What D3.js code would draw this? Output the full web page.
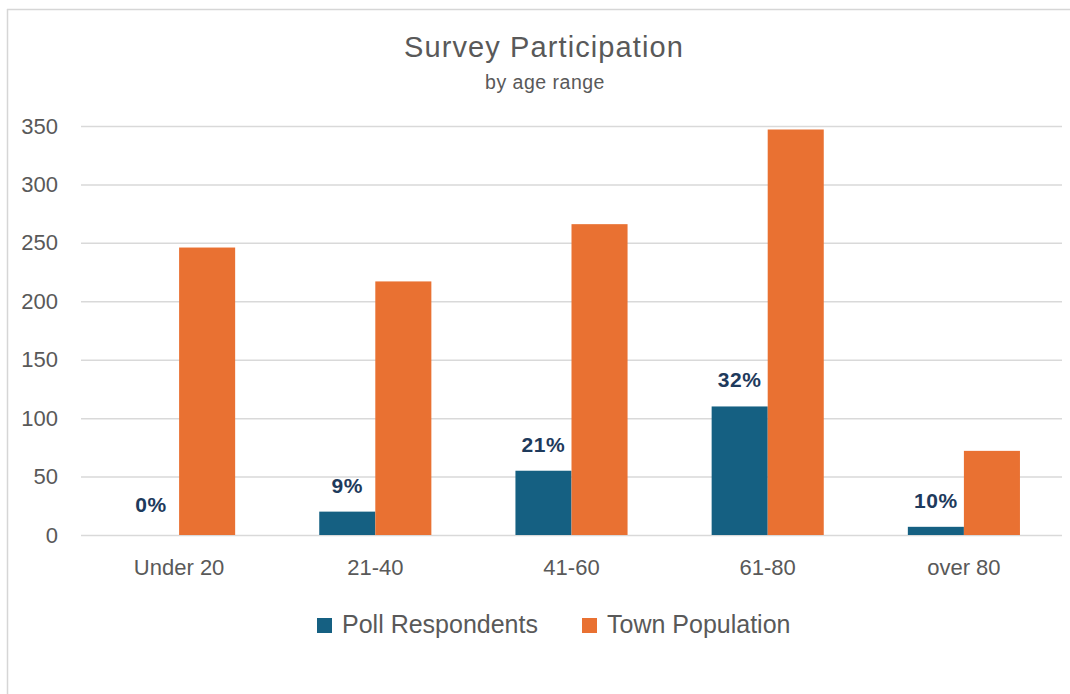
<!DOCTYPE html>
<html>
<head>
<meta charset="utf-8">
<script src="https://cdn.jsdelivr.net/npm/d3@7"></script>
<style>
  html, body { margin: 0; padding: 0; background: #ffffff; }
  svg { display: block; }
  text { font-family: "Liberation Sans", Arial, sans-serif; }
</style>
</head>
<body>
<svg id="chart" width="1070" height="694"></svg>
<script>
const categories = ["Under 20", "21-40", "41-60", "61-80", "over 80"];
const seriesNames = ["Poll Respondents", "Town Population"];
const pollRespondents = [0, 20, 55, 110, 7];
const townPopulation = [246, 217, 266, 347, 72];
const pctLabels = ["0%", "9%", "21%", "32%", "10%"];
const yTicks = [0, 50, 100, 150, 200, 250, 300, 350];
const colors = ["#156082", "#E97132"];

const W = 1070, H = 694;
const plot = { left: 81, right: 1062, top: 126, bottom: 535 };

const svg = d3.select("#chart");

// frame (top & left edges visible)
svg.append("line").attr("x1", 7).attr("x2", W).attr("y1", 9.5).attr("y2", 9.5)
  .attr("stroke", "#d6d6d6").attr("stroke-width", 1.5);
svg.append("line").attr("x1", 7.5).attr("x2", 7.5).attr("y1", 9).attr("y2", H)
  .attr("stroke", "#d6d6d6").attr("stroke-width", 1.5);

// title
svg.append("text").attr("x", 544).attr("y", 57).attr("text-anchor", "middle")
  .attr("font-size", 29).attr("letter-spacing", 1.1).attr("fill", "#595959")
  .text("Survey Participation");
svg.append("text").attr("x", 545).attr("y", 89).attr("text-anchor", "middle")
  .attr("font-size", 19.5).attr("letter-spacing", 0.5).attr("fill", "#595959")
  .text("by age range");

const y = d3.scaleLinear().domain([0, 350]).range([plot.bottom, plot.top]);
const x0 = d3.scaleBand().domain(categories).range([plot.left, plot.right]).paddingInner(0).paddingOuter(0);
const x1 = d3.scaleBand().domain(seriesNames).range([0, x0.bandwidth()]).paddingInner(0).paddingOuter(0.75);

// y axis with gridlines
const yAxis = svg.append("g").attr("transform", `translate(${plot.left},0)`)
  .call(d3.axisLeft(y).tickValues(yTicks).tickSize(-(plot.right - plot.left)).tickPadding(23));
yAxis.select(".domain").remove();
yAxis.selectAll(".tick line").attr("stroke", "#d9d9d9").attr("stroke-width", 1.5);
yAxis.selectAll(".tick text").attr("font-size", 22).attr("fill", "#595959")
  .attr("font-family", "Liberation Sans, Arial, sans-serif");

// x axis labels
const xAxis = svg.append("g").attr("transform", `translate(0,${plot.bottom})`)
  .call(d3.axisBottom(x0).tickSize(0).tickPadding(24));
xAxis.select(".domain").remove();
xAxis.selectAll(".tick text").attr("font-size", 22).attr("fill", "#595959")
  .attr("font-family", "Liberation Sans, Arial, sans-serif");

// bars
const rows = categories.map((c, i) => ({
  cat: c,
  values: [
    { series: seriesNames[0], v: pollRespondents[i] },
    { series: seriesNames[1], v: townPopulation[i] }
  ],
  label: pctLabels[i],
  poll: pollRespondents[i]
}));

const groups = svg.append("g").selectAll("g").data(rows).join("g")
  .attr("transform", d => `translate(${x0(d.cat)},0)`);

groups.selectAll("rect").data(d => d.values).join("rect")
  .attr("x", d => x1(d.series))
  .attr("width", x1.bandwidth())
  .attr("y", d => y(d.v))
  .attr("height", d => y(0) - y(d.v))
  .attr("fill", (d, i) => colors[i]);

// data labels on poll bars
groups.append("text")
  .attr("x", x1(seriesNames[0]) + x1.bandwidth() / 2)
  .attr("y", d => y(d.poll) - (d.poll === 0 ? 23 : 19))
  .attr("text-anchor", "middle")
  .attr("font-size", 21).attr("font-weight", "bold").attr("letter-spacing", 0.6)
  .attr("fill", "#1e3a5c")
  .text(d => d.label);

// legend
const legendX = [317, 582];
const legend = svg.append("g").selectAll("g").data(seriesNames).join("g")
  .attr("transform", (d, i) => `translate(${legendX[i]},618)`);
legend.append("rect").attr("width", 15).attr("height", 15).attr("fill", (d, i) => colors[i]);
legend.append("text").attr("x", 25).attr("y", 15)
  .attr("font-size", 25).attr("fill", "#595959").text(d => d);
</script>
</body>
</html>
